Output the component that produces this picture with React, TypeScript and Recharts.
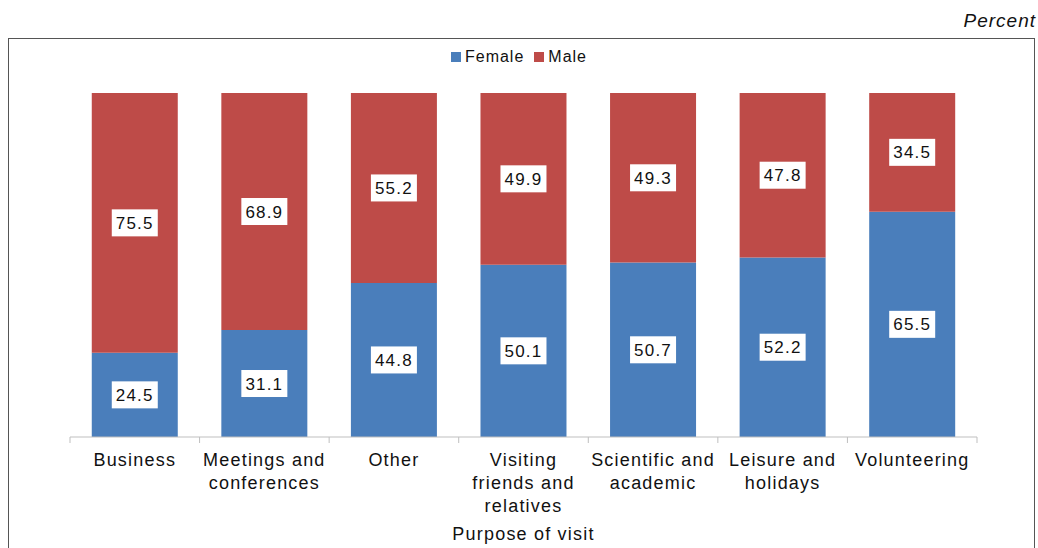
import React from "react";
import { BarChart, Bar, XAxis, YAxis, LabelList } from "recharts";

const categories = [
  "Business",
  "Meetings and conferences",
  "Other",
  "Visiting friends and relatives",
  "Scientific and academic",
  "Leisure and holidays",
  "Volunteering",
];
const female = [24.5, 31.1, 44.8, 50.1, 50.7, 52.2, 65.5];
const male = [75.5, 68.9, 55.2, 49.9, 49.3, 47.8, 34.5];

const BLUE = "#4A7EBB";
const RED = "#BE4B48";
const FONT = "'Liberation Sans', Arial, Helvetica, sans-serif";

const data = categories.map((name, i) => ({ name, female: female[i], male: male[i] }));

const CHART_W = 1038;
const CHART_H = 548;
const margin = { top: 93, right: 61, left: 70, bottom: 6 };
const band = (CHART_W - margin.left - margin.right) / categories.length;

// greedy wrap, roughly like the original's narrow category cells
function wrap(text: string, max = 14) {
  const lines: string[] = [];
  let cur = "";
  for (const w of text.split(" ")) {
    const next = cur ? cur + " " + w : w;
    if (next.length > max && cur) {
      lines.push(cur);
      cur = w;
    } else cur = next;
  }
  if (cur) lines.push(cur);
  return lines;
}

const CategoryTick = (props: any) => {
  const { x, y, payload, index } = props;
  const lines = wrap(payload.value);
  const left = x - band / 2;
  return (
    <g>
      <line x1={left} x2={left} y1={y - 6} y2={y} stroke="#BFBFBF" />
      {index === categories.length - 1 && (
        <line x1={x + band / 2} x2={x + band / 2} y1={y - 6} y2={y} stroke="#BFBFBF" />
      )}
      <text
        x={x}
        y={y + 23}
        textAnchor="middle"
        fontSize={18}
        letterSpacing={1.2}
        fill="#111"
        fontFamily={FONT}
      >
        {lines.map((l, i) => (
          <tspan key={i} x={x} dy={i === 0 ? 0 : 23}>
            {l}
          </tspan>
        ))}
      </text>
    </g>
  );
};

const BoxLabel = (props: any) => {
  const { x, y, width, height, value } = props;
  const cx = x + width / 2;
  const cy = y + height / 2;
  const w = 46;
  const h = 27;
  return (
    <g>
      <rect x={cx - w / 2} y={cy - h / 2} width={w} height={h} fill="#fff" />
      <text
        x={cx}
        y={cy + 6}
        textAnchor="middle"
        fontSize={17}
        letterSpacing={1.2}
        fill="#111"
        fontFamily={FONT}
      >
        {Number(value).toFixed(1)}
      </text>
    </g>
  );
};

export default function App() {
  return (
    <div
      style={{
        position: "absolute",
        left: 0,
        top: 0,
        width: CHART_W,
        height: CHART_H,
        overflow: "hidden",
        background: "#fff",
        fontFamily: FONT,
      }}
    >
      <div
        style={{
          position: "absolute",
          right: 2,
          top: 10,
          fontSize: 19,
          letterSpacing: 1,
          fontStyle: "italic",
          color: "#111",
        }}
      >
        Percent
      </div>
      <div
        style={{
          position: "absolute",
          left: 8,
          top: 38,
          width: 1027,
          height: 540,
          border: "1.5px solid #555",
          boxSizing: "border-box",
        }}
      />
      <div
        style={{
          position: "absolute",
          left: 0,
          width: CHART_W,
          top: 48,
          display: "flex",
          justifyContent: "center",
          alignItems: "center",
          fontSize: 16,
          letterSpacing: 1,
          color: "#111",
          gap: 4,
        }}
      >
        <span style={{ width: 10, height: 10, background: BLUE, display: "inline-block" }} />
        <span>Female</span>
        <span style={{ width: 10, height: 10, background: RED, display: "inline-block", marginLeft: 6 }} />
        <span>Male</span>
      </div>
      <div style={{ position: "absolute", left: 0, top: 0 }}>
        <BarChart width={CHART_W} height={CHART_H} data={data} margin={margin} barCategoryGap="16.8%">
          <YAxis hide domain={[0, 100]} />
          <XAxis
            dataKey="name"
            height={105}
            interval={0}
            tickLine={false}
            tickSize={6}
            tickMargin={0}
            axisLine={{ stroke: "#BFBFBF" }}
            tick={<CategoryTick />}
            label={{
              value: "Purpose of visit",
              position: "insideBottom",
              offset: 2,
              style: { fill: "#111", fontSize: 18, letterSpacing: 1.2, fontFamily: FONT },
            }}
          />
          <Bar dataKey="female" stackId="a" fill={BLUE} isAnimationActive={false}>
            <LabelList dataKey="female" content={<BoxLabel />} />
          </Bar>
          <Bar dataKey="male" stackId="a" fill={RED} isAnimationActive={false}>
            <LabelList dataKey="male" content={<BoxLabel />} />
          </Bar>
        </BarChart>
      </div>
    </div>
  );
}
